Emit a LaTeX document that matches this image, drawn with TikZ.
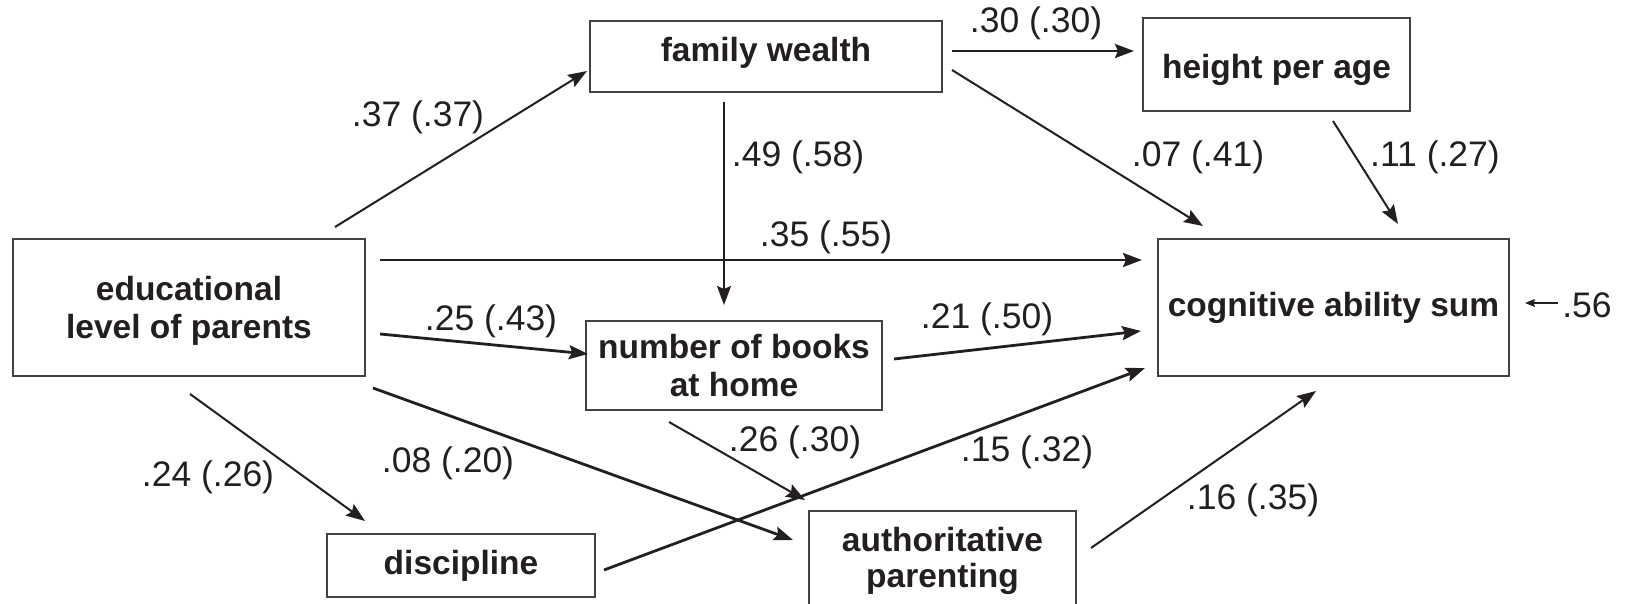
\documentclass[tikz,border=0pt]{standalone}
\usepackage{fontspec}
\setmainfont{Liberation Sans}
\newfontfamily\coeffont{Liberation Sans}
\usetikzlibrary{arrows.meta,calc}
\definecolor{ink}{RGB}{35,31,32}

\begin{document}
\begin{tikzpicture}[x=1pt,y=-1pt,
  box/.style={draw=ink!85, line width=1.2pt, inner sep=0pt, outer sep=0pt},
  vartext/.style={inner sep=0pt, align=center, text=ink,
    font=\fontsize{33.5}{38.5}\selectfont\bfseries},
  coef/.style={inner sep=0pt, text=ink, font=\coeffont\fontsize{35.5}{40}\selectfont},
  link/.style={draw=ink, line width=2pt, -{Stealth[length=19pt,width=14pt,inset=3pt]}},
  heavy/.style={link, line width=2.8pt}]

\useasboundingbox (0,0) rectangle (1630,604);
\clip (0,0) rectangle (1630,604);

% variable boxes
\node[box, minimum width=352pt, minimum height=71pt]  (fam)   at (766,56.5)     {};
\node[box, minimum width=267pt, minimum height=93pt]  (hpa)   at (1276.5,64.5)  {};
\node[box, minimum width=352pt, minimum height=137pt] (edu)   at (189,307.5)    {};
\node[box, minimum width=351pt, minimum height=137pt] (cog)   at (1333.5,307.5) {};
\node[box, minimum width=296pt, minimum height=89pt]  (books) at (734,365.5)    {};
\node[box, minimum width=268pt, minimum height=63pt]  (disc)  at (461,565.5)    {};
\node[box, minimum width=267pt, minimum height=99pt]  (auth)  at (942.5,560.5)  {};

% variable names
\node[vartext, anchor=base] (famtext)   at (766,61.7)     {family wealth};
\node[vartext, anchor=base] (hpatext)   at (1276.5,79)    {height per age};
\node[vartext]              (edutext)   at (189,311)      {educational\\level of parents};
\node[vartext]              (cogtext)   at (1333.5,307.5) {cognitive ability sum};
\node[vartext]              (bookstext) at (734,365.5)    {number of books\\at home};
\node[vartext]              (disctext)  at (461,565.5)    {discipline};
\node[vartext, font=\fontsize{33.5}{36}\selectfont\bfseries]
                            (authtext)  at (942.5,560.5)  {authoritative\\parenting};

% paths
\draw[link]  ($(edu.north east)+(-30,-12)$) -- ($(fam.south west)+(-3,-21)$);
\draw[link]  ($(fam.south)+(-42,10)$)       -- ($(books.north)+(-10,-16)$);
\draw[heavy] ($(edu.north east)+(15,21)$)   -- ($(cog.north west)+(-16,21)$);
\draw[heavy] ($(fam.east)+(10,-5.5)$)       -- ($(hpa.west)+(-9,-13.5)$);
\draw[link]  ($(fam.east)+(10,13.5)$)       -- ($(cog.north west)+(45,-13)$);
\draw[link]  ($(hpa.south)+(56.5,10)$)      -- ($(cog.north)+(64.5,-15)$);
\draw[heavy] ($(edu.east)+(15,26.5)$)       -- ($(books.west)+(2,-11.5)$);
\draw[heavy] ($(books.east)+(12,-6.5)$)     -- ($(cog.west)+(-17,23.5)$);
\draw[heavy] ($(edu.south east)+(8,12)$)    -- ($(auth.north west)+(-16,29)$);
\draw[link]  ($(edu.south)+(1,18)$)         -- ($(disc.north west)+(38,-13)$);
\draw[link]  ($(books.south)+(-65,12)$)     -- ($(auth.north west)+(-4,-11)$);
\draw[heavy] ($(disc.east)+(9,4.5)$)        -- ($(cog.south west)+(-13,-8)$);
\draw[link]  ($(auth.north east)+(15,37)$)  -- ($(cog.south)+(-17.5,15)$);

% coefficients
\node[coef] (c1)  at (418,117)  {.37 (.37)};
\node[coef] (c2)  at (798,157)  {.49 (.58)};
\node[coef] (c3)  at (826,237)  {.35 (.55)};
\node[coef] (c4)  at (1036,23)  {.30 (.30)};
\node[coef] (c5)  at (1198,157) {.07 (.41)};
\node[coef] (c6)  at (1435,157) {.11 (.27)};
\node[coef] (c7)  at (491,321)  {.25 (.43)};
\node[coef] (c8)  at (987,319)  {.21 (.50)};
\node[coef] (c9)  at (795,442)  {.26 (.30)};
\node[coef] (c10) at (208,477)  {.24 (.26)};
\node[coef] (c11) at (448,463)  {.08 (.20)};
\node[coef] (c12) at (1027,452) {.15 (.32)};
\node[coef] (c13) at (1253,500) {.16 (.35)};

% residual
\node[coef] (res) at (1587,305) {.56};
\draw[draw=ink, line width=1.2pt, -{Stealth[length=10pt,width=8pt,inset=1.5pt]}]
  ($(res.west)+(-4,-2)$) -- ($(cog.east)+(16,-4.5)$);
\end{tikzpicture}
\end{document}
